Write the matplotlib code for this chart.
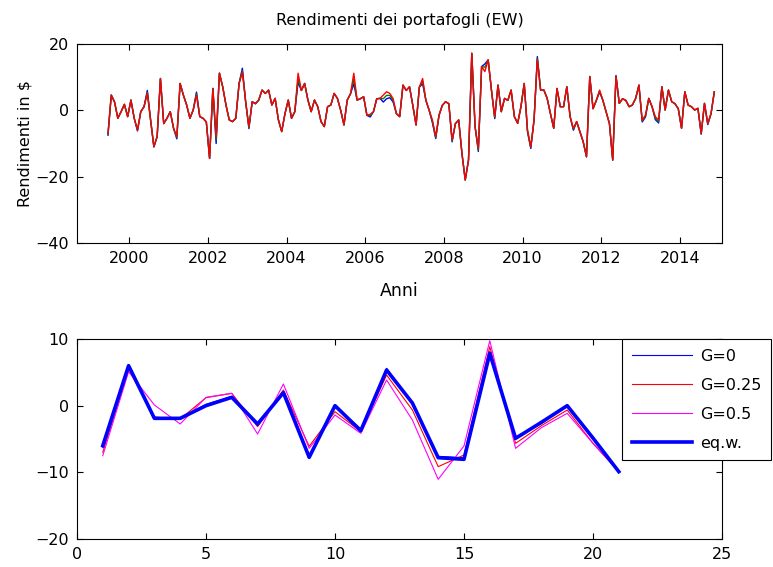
import numpy as np
import pandas as pd
import matplotlib
matplotlib.use("Agg")
import matplotlib.pyplot as plt

plt.rcParams["font.family"] = ["DejaVu Sans"]
plt.rcParams["font.size"] = 11.5

# monthly returns, three portfolios (blue, green, red), Jun 1999 - Nov 2014
dates = pd.date_range("1999-06-01", periods=186, freq="MS")
years = dates.year + (dates.month - 0.5) / 12

ret_blue = [
    -7.5, 4.6, 2.5, -2.4, -0.4, 1.8, -1.9, 3.1, -2.4, -6.2, -0.4, 1.1, 6.0, -2.9, -11.0, -7.9, 9.6, -4.0, -2.4, -0.4, -5.4, -8.6, 8.1, 4.6, 1.6, -2.4,
    0.1, 5.5, -1.9, -2.4, -3.5, -14.5, 6.6, -10.0, 11.2, 7.1, 1.6, -2.9, -3.4, -2.4, 8.1, 12.7, 2.6, -5.5, 2.6, 2.0, 3.1, 6.1, 5.1, 6.1, 1.6, 3.6, -2.9,
    -6.4, -1.0, 3.1, -2.4, -0.4, 8.5, 6.0, 8.1, 3.1, -0.4, 3.1, 1.1, -3.4, -4.9, 1.1, 1.6, 5.1, 3.6, 0.0, -4.4, 3.1, 5.0, 8.0, 3.1, 3.5, 4.1, -1.5,
    -2.0, -0.4, 3.5, 3.6, 2.5, 3.5, 3.8, 2.5, -1.0, -1.9, 7.6, 6.0, 7.1, 1.5, -4.4, 7.0, 8.0, 3.0, 0.0, -3.8, -8.5, -1.5, 1.5, 2.6, 2.0, -9.5, -4.0,
    -2.9, -13.0, -21.0, -15.0, 17.2, -4.9, -12.4, 13.2, 14.0, 15.2, 6.1, -2.5, 7.6, -0.4, 3.6, 3.0, 6.1, -1.9, -3.9, 1.1, 8.1, -6.5, -11.5, -2.9, 16.2, 6.1,
    6.1, 3.6, -1.0, -5.4, 6.6, 1.1, 1.1, 7.1, -1.9, -6.0, -3.4, -6.5, -9.5, -14.0, 10.2, 0.5, 3.0, 5.5, 3.0, -0.5, -4.0, -15.0, 10.5, 2.1, 3.5, 3.0, 1.1,
    1.6, 3.6, 7.6, -3.5, -2.0, 3.6, 1.1, -2.8, -3.8, 7.1, 0.1, 6.1, 2.6, 2.0, 0.5, -5.4, 5.6, 1.6, 1.1, 0.1, 0.6, -7.2, 2.1, -4.3, -1.0, 5.6]

ret_green = [
    -7.2, 4.6, 2.5, -2.4, -0.4, 1.8, -1.9, 3.1, -2.4, -6.0, -0.4, 1.1, 5.5, -2.9, -11.0, -7.9, 9.6, -4.0, -2.4, -0.4, -5.4, -8.2, 8.1, 4.6, 1.6, -2.4,
    0.1, 5.0, -1.9, -2.4, -3.5, -14.5, 6.6, -9.0, 11.2, 7.1, 1.6, -2.9, -3.4, -2.4, 8.1, 12.0, 2.6, -5.2, 2.6, 2.0, 3.1, 6.1, 5.1, 6.1, 1.6, 3.6, -2.9,
    -6.4, -1.0, 3.1, -2.4, -0.4, 9.5, 6.0, 8.1, 3.1, -0.4, 3.1, 1.1, -3.4, -4.9, 1.1, 1.6, 5.1, 3.6, 0.0, -4.4, 3.1, 5.0, 9.5, 3.1, 3.5, 4.1, -1.5,
    -1.6, -0.4, 3.5, 3.6, 3.5, 4.5, 4.5, 3.0, -1.0, -1.9, 7.6, 6.0, 7.1, 1.5, -4.4, 7.0, 8.8, 3.0, 0.0, -3.4, -8.2, -1.5, 1.5, 2.6, 2.0, -9.2, -4.0,
    -2.9, -13.0, -21.0, -15.0, 17.2, -4.9, -12.0, 13.2, 13.0, 15.2, 6.1, -2.2, 7.6, -0.4, 3.6, 3.0, 6.1, -1.9, -3.9, 1.1, 8.1, -6.2, -11.2, -2.9, 15.7, 6.1,
    6.1, 3.6, -1.0, -5.4, 6.6, 1.1, 1.1, 7.1, -1.9, -5.7, -3.4, -6.5, -9.5, -14.0, 10.2, 0.5, 3.0, 5.8, 3.0, -0.5, -4.0, -15.0, 10.3, 2.1, 3.5, 3.0, 1.1,
    1.6, 3.6, 7.6, -3.2, -1.7, 3.6, 1.1, -2.4, -3.4, 7.1, 0.1, 6.1, 2.6, 2.0, 0.5, -5.4, 5.6, 1.6, 1.1, 0.1, 0.6, -7.0, 2.1, -4.1, -1.0, 5.6]

ret_red = [
    -6.9, 4.6, 2.5, -2.4, -0.4, 1.8, -1.9, 3.1, -2.4, -5.9, -0.4, 1.1, 5.1, -2.9, -11.0, -7.9, 9.6, -4.0, -2.4, -0.4, -5.4, -7.9, 8.1, 4.6, 1.6, -2.4,
    0.1, 4.6, -1.9, -2.4, -3.5, -14.5, 6.6, -7.9, 11.2, 7.1, 1.6, -2.9, -3.4, -2.4, 8.1, 11.5, 2.6, -4.9, 2.6, 2.0, 3.1, 6.1, 5.1, 6.1, 1.6, 3.6, -2.9,
    -6.4, -1.0, 3.1, -2.4, -0.4, 11.2, 6.0, 8.1, 3.1, -0.4, 3.1, 1.1, -3.4, -4.9, 1.1, 1.6, 5.1, 3.6, 0.0, -4.4, 3.1, 5.0, 11.2, 3.1, 3.5, 4.1, -1.5,
    -1.2, -0.4, 3.5, 3.6, 4.6, 5.6, 5.1, 3.5, -1.0, -1.9, 7.6, 6.0, 7.1, 1.5, -4.4, 7.0, 9.6, 3.0, 0.0, -3.0, -7.9, -1.5, 1.5, 2.6, 2.0, -8.9, -4.0,
    -2.9, -13.0, -21.0, -15.0, 17.2, -4.9, -11.5, 13.2, 11.7, 15.2, 6.1, -1.9, 7.6, -0.4, 3.6, 3.0, 6.1, -1.9, -3.9, 1.1, 8.1, -5.9, -11.0, -2.9, 15.2, 6.1,
    6.1, 3.6, -1.0, -5.4, 6.6, 1.1, 1.1, 7.1, -1.9, -5.4, -3.4, -6.5, -9.5, -14.0, 10.2, 0.5, 3.0, 6.1, 3.0, -0.5, -4.0, -15.0, 10.2, 2.1, 3.5, 3.0, 1.1,
    1.6, 3.6, 7.6, -3.0, -1.4, 3.6, 1.1, -1.9, -2.9, 7.1, 0.1, 6.1, 2.6, 2.0, 0.5, -5.4, 5.6, 1.6, 1.1, 0.1, 0.6, -6.9, 2.1, -3.9, -1.0, 5.6]

# bottom panel: 21 portfolios
port = np.arange(1, 22)
g_0 = [-6.3, 5.9, -1.9, -1.9, 0.2, 1.4, -2.9, 2.0, -7.4, -0.2, -3.5, 5.6, 0.3, -7.6, -7.8, 8.1, -4.7, -2.7, 0.1, -5.0, -9.9]
g_025 = [-7.0, 5.5, -1.7, -2.0, 1.2, 1.85, -3.15, 2.35, -6.1, -0.9, -3.9, 4.6, -0.65, -9.15, -7.4, 8.85, -5.65, -3.0, -0.65, -5.65, -9.9]
g_05 = [-7.5, 5.1, 0.1, -2.75, 1.25, 1.85, -4.25, 3.25, -6.4, -1.4, -4.15, 3.85, -2.15, -11.05, -6.05, 9.75, -6.4, -3.3, -1.15, -5.65, -9.9]
eq_w = [-6.0, 6.0, -1.9, -1.9, 0.0, 1.25, -2.75, 1.95, -7.75, 0.0, -3.75, 5.35, 0.4, -7.8, -8.05, 7.85, -4.9, -2.5, 0.0, -4.85, -9.9]

fig = plt.figure(figsize=(7.73, 5.67), dpi=100)

def matlab_axes(ax):
    ax.tick_params(direction="in", top=True, right=True, length=4.5, width=0.8,
                   labelsize=11.5, pad=6)
    for s in ax.spines.values():
        s.set_linewidth(0.8)

# top: time series
ax1 = fig.add_axes([0.0996, 0.5714, 0.8344, 0.3510])
ax1.plot(years, ret_blue, color=(0, 0, 1), lw=1.0)
ax1.plot(years, ret_green, color=(0, 0.5, 0), lw=1.0)
ax1.plot(years, ret_red, color=(1, 0, 0), lw=1.0)
ax1.set_xlim(1998.67, 2015.07)
ax1.set_ylim(-40, 20)
ax1.set_xticks(np.arange(2000, 2015, 2))
ax1.set_yticks([-40, -20, 0, 20])
ax1.set_title("Rendimenti dei portafogli (EW)", fontsize=11.5, pad=14)
ax1.set_xlabel("Anni", fontsize=12.5, labelpad=11)
ax1.set_ylabel("Rendimenti in $", fontsize=11.5, labelpad=2)
matlab_axes(ax1)

# bottom: returns by portfolio
ax2 = fig.add_axes([0.0996, 0.0494, 0.8344, 0.3527])
ax2.plot(port, g_0, color=(0, 0, 1), lw=0.8, label="G=0")
ax2.plot(port, g_025, color=(1, 0, 0), lw=0.8, label="G=0.25")
ax2.plot(port, g_05, color=(1, 0, 1), lw=0.8, label="G=0.5")
ax2.plot(port, eq_w, color=(0, 0, 1), lw=2.6, label="eq.w.")
ax2.set_xlim(0, 25)
ax2.set_ylim(-20, 10)
ax2.set_xticks(np.arange(0, 26, 5))
ax2.set_yticks([-20, -10, 0, 10])
matlab_axes(ax2)

leg = ax2.legend(loc="upper left", bbox_to_anchor=(0.845, 1.0), fontsize=11.5,
                 frameon=True, fancybox=False, framealpha=1, edgecolor="black",
                 handlelength=3.8, handletextpad=0.5, labelspacing=0.88,
                 borderpad=0.6, borderaxespad=0)
leg.get_frame().set_linewidth(0.8)

fig.savefig("out.png", dpi=100)
